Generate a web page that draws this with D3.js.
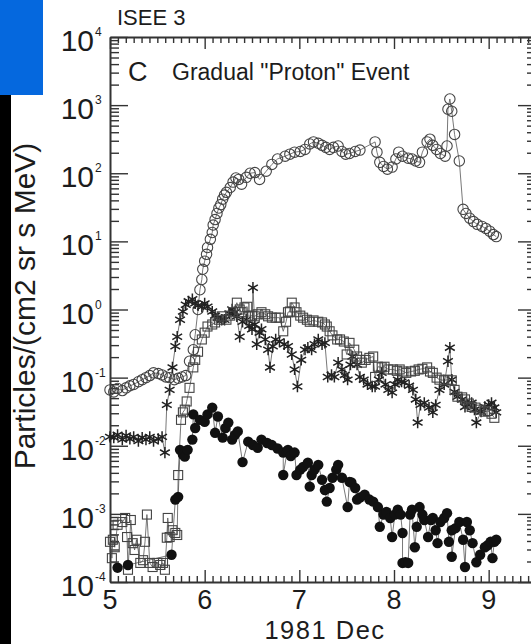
<!DOCTYPE html>
<html lang="en">
<head>
<meta charset="utf-8">
<title>ISEE 3 Gradual Proton Event</title>
<script src="https://cdn.jsdelivr.net/npm/d3@7"></script>
<style>
  html, body { margin: 0; padding: 0; background: #fff; }
  svg { display: block; font-family: "Liberation Sans", Arial, sans-serif; }
</style>
</head>
<body>
<script>
// time in days of 1981 Dec, flux as log10(particles/(cm2 sr s MeV))
const circDay = [5.00,5.04,5.08,5.13,5.17,5.21,5.25,5.30,5.34,5.38,5.42,5.46,5.51,5.55,5.59,5.63,5.68,5.72,5.76,5.80,
  5.84,5.88,5.90,5.93,5.95,5.97,5.98,6.00,6.02,6.03,6.06,6.08,6.09,6.11,6.13,6.15,6.17,6.19,6.21,6.23,
  6.27,6.30,6.33,6.36,6.39,6.44,6.48,6.53,6.58,6.65,6.71,6.77,6.85,6.90,6.95,7.01,7.06,7.11,7.15,7.20,
  7.24,7.28,7.32,7.36,7.41,7.45,7.49,7.53,7.59,7.64,7.80,7.82,7.85,7.89,7.93,7.98,8.02,8.05,8.09,8.15,
  8.19,8.23,8.27,8.30,8.35,8.38,8.41,8.45,8.49,8.54,8.56,8.57,8.59,8.61,8.64,8.69,8.73,8.76,8.80,8.84,
  8.88,8.93,8.97,9.01,9.05,9.08];
const circLog10 = [-1.18,-1.21,-1.16,-1.19,-1.15,-1.12,-1.10,-1.06,-1.03,-1.00,-0.97,-0.93,-0.94,-0.96,-0.99,-1.00,-1.03,-1.01,-0.99,-0.97,
  -0.76,-0.59,-0.37,0.00,0.29,0.44,0.59,0.71,0.81,0.91,1.03,1.13,1.24,1.32,1.41,1.49,1.54,1.62,1.68,1.72,
  1.79,1.87,1.93,1.91,1.84,1.94,2.00,2.01,1.91,2.03,2.13,2.21,2.25,2.28,2.31,2.32,2.35,2.43,2.46,2.44,
  2.41,2.38,2.35,2.38,2.40,2.32,2.28,2.29,2.32,2.34,2.46,2.31,2.16,2.10,2.06,2.09,2.21,2.31,2.25,2.22,
  2.21,2.18,2.16,2.31,2.46,2.50,2.41,2.35,2.29,2.25,2.40,2.94,3.09,2.91,2.57,2.18,1.47,1.41,1.34,1.29,
  1.25,1.22,1.19,1.15,1.10,1.07];

const starDay = [5.00,5.04,5.08,5.13,5.17,5.21,5.25,5.30,5.34,5.38,5.42,5.46,5.51,5.55,5.58,5.60,5.63,5.66,5.69,5.71,
  5.74,5.77,5.80,5.83,5.87,5.90,5.93,5.97,6.00,6.03,6.08,6.11,6.14,6.18,6.21,6.26,6.29,6.32,6.34,6.37,
  6.40,6.44,6.47,6.50,6.51,6.53,6.55,6.58,6.60,6.64,6.67,6.69,6.72,6.75,6.79,6.84,6.88,6.92,6.95,6.98,
  7.02,7.06,7.09,7.13,7.16,7.20,7.24,7.27,7.30,7.34,7.37,7.41,7.45,7.48,7.51,7.54,7.56,7.61,7.64,7.68,
  7.72,7.77,7.80,7.84,7.87,7.91,7.94,7.98,8.01,8.04,8.08,8.11,8.16,8.20,8.23,8.25,8.28,8.32,8.37,8.41,
  8.44,8.48,8.53,8.57,8.59,8.61,8.64,8.67,8.72,8.75,8.78,8.82,8.85,8.87,8.92,8.96,9.00,9.03,9.06,9.08];
const starLog10 = [-1.87,-1.88,-1.84,-1.91,-1.85,-1.90,-1.87,-1.93,-1.88,-1.91,-1.87,-1.93,-1.90,-1.87,-2.10,-1.40,-1.18,-0.85,-0.54,-0.40,
  -0.15,-0.03,0.07,0.12,0.15,0.09,0.06,0.04,0.09,0.04,-0.03,-0.09,-0.12,-0.15,-0.15,-0.06,0.00,-0.04,-0.10,-0.40,
  -0.18,-0.15,-0.24,-0.29,0.32,-0.22,-0.51,-0.34,-0.29,-0.44,-0.59,-0.85,-0.54,-0.44,-0.47,-0.51,-0.54,-0.66,-0.88,-1.13,
  -0.74,-0.59,-0.56,-0.59,-0.51,-0.44,-0.51,-0.49,-0.99,-0.96,-0.99,-0.78,-0.88,-0.96,-1.03,-0.81,-0.69,-0.81,-0.99,-1.03,
  -1.10,-1.13,-1.13,-1.03,-0.93,-1.10,-1.18,-1.22,-1.10,-1.03,-1.06,-1.07,-1.12,-1.18,-1.32,-1.66,-1.40,-1.37,-1.44,-1.51,
  -1.40,-1.18,-1.10,-0.76,-0.56,-1.03,-1.21,-1.28,-1.32,-1.43,-1.40,-1.37,-1.47,-1.66,-1.50,-1.43,-1.40,-1.37,-1.44,-1.51];

const sqDay = [5.00,5.02,5.03,5.05,5.08,5.13,5.16,5.18,5.19,5.22,5.24,5.26,5.28,5.32,5.35,5.37,5.39,5.42,5.45,5.50,
  5.53,5.56,5.58,5.60,5.61,5.63,5.66,5.69,5.71,5.72,5.75,5.77,5.79,5.81,5.84,5.88,5.90,5.93,5.97,6.00,
  6.03,6.08,6.11,6.15,6.18,6.23,6.27,6.30,6.34,6.37,6.39,6.42,6.45,6.46,6.50,6.53,6.56,6.60,6.64,6.67,
  6.71,6.75,6.79,6.83,6.86,6.88,6.90,6.92,6.95,6.97,7.01,7.04,7.08,7.11,7.15,7.20,7.24,7.27,7.29,7.32,
  7.35,7.40,7.43,7.47,7.50,7.53,7.58,7.61,7.64,7.66,7.70,7.74,7.78,7.80,7.83,7.87,7.90,7.94,7.99,8.03,
  8.06,8.10,8.13,8.18,8.22,8.26,8.30,8.35,8.38,8.41,8.45,8.48,8.53,8.57,8.61,8.64,8.67,8.72,8.75,8.79,
  8.82,8.86,8.91,8.96,8.99,9.03,9.06];
const sqLog10 = [-3.41,-3.65,-3.38,-3.49,-3.16,-3.12,-3.06,-3.34,-3.82,-3.09,-3.43,-3.53,-3.38,-3.72,-3.68,-3.41,-3.01,-3.72,-3.78,-3.72,
  -3.75,-3.72,-3.82,-3.35,-3.06,-3.34,-3.24,-3.28,-3.31,-2.43,-1.62,-1.51,-1.47,-1.35,-1.15,-0.85,-0.74,-0.62,-0.44,-0.34,
  -0.25,-0.22,-0.19,-0.15,-0.10,-0.15,-0.09,-0.04,0.10,0.00,-0.04,0.03,0.04,-0.10,-0.09,-0.10,-0.07,-0.04,-0.07,-0.10,
  -0.12,-0.12,-0.12,-0.32,-0.18,-0.04,-0.03,0.10,0.03,-0.04,-0.09,-0.12,-0.15,-0.18,-0.16,-0.18,-0.19,-0.22,-0.25,-0.32,
  -0.38,-0.44,-0.44,-0.47,-0.66,-0.49,-0.59,-0.69,-0.74,-0.78,-0.74,-0.71,-0.69,-0.99,-0.84,-0.85,-0.84,-0.88,-0.88,-0.90,
  -0.88,-0.91,-0.93,-0.91,-0.90,-0.88,-0.87,-0.85,-0.91,-0.93,-1.00,-1.03,-1.04,-1.03,-1.04,-1.18,-1.28,-1.29,-1.32,-1.38,
  -1.43,-1.44,-1.47,-1.50,-1.49,-1.53,-1.59];

const dotDay = [5.08,5.19,5.65,5.69,5.72,5.74,5.77,5.79,5.82,5.87,5.88,5.90,5.95,6.00,6.03,6.08,6.11,6.14,6.19,6.22,
  6.25,6.29,6.32,6.35,6.40,6.46,6.51,6.56,6.60,6.66,6.71,6.77,6.83,6.83,6.87,6.88,6.91,6.95,6.97,7.01,
  7.04,7.09,7.11,7.13,7.16,7.20,7.24,7.27,7.29,7.32,7.35,7.39,7.41,7.45,7.51,7.53,7.55,7.59,7.61,7.64,
  7.69,7.74,7.78,7.83,7.85,7.89,7.92,7.96,7.98,8.01,8.04,8.07,8.09,8.09,8.12,8.15,8.17,8.19,8.22,8.24,
  8.27,8.30,8.32,8.36,8.39,8.41,8.44,8.46,8.49,8.53,8.56,8.58,8.61,8.61,8.65,8.69,8.73,8.75,8.77,8.80,
  8.83,8.87,8.91,8.96,8.99,9.02,9.04,9.06,9.08];
const dotLog10 = [-3.79,-3.75,-3.60,-2.79,-2.75,-2.06,-2.13,-2.16,-2.06,-1.91,-1.54,-1.74,-1.62,-1.65,-1.54,-1.44,-1.81,-1.57,-1.88,-1.74,
  -1.66,-1.91,-1.84,-1.79,-2.24,-1.94,-1.99,-2.03,-1.91,-1.96,-1.99,-2.04,-2.10,-2.43,-2.09,-2.06,-2.15,-2.10,-2.43,-2.35,
  -2.31,-2.25,-2.60,-2.43,-2.35,-2.28,-2.50,-2.65,-2.82,-2.62,-2.47,-2.35,-2.28,-2.47,-2.90,-2.53,-2.54,-2.62,-2.79,-2.76,
  -2.72,-2.79,-2.82,-2.90,-3.19,-3.01,-2.97,-3.06,-3.34,-3.01,-2.94,-3.01,-3.28,-3.72,-3.71,-3.72,-3.01,-2.94,-3.49,-3.19,
  -2.90,-3.01,-3.09,-3.34,-3.09,-3.06,-3.24,-3.43,-3.12,-3.06,-2.99,-3.41,-3.24,-3.63,-3.21,-3.12,-3.38,-3.78,-3.12,-3.24,
  -3.43,-3.71,-3.60,-3.49,-3.46,-3.41,-3.65,-3.41,-3.38];

const xTickDays = [5, 6, 7, 8, 9];
const yDecades = [-4, -3, -2, -1, 0, 1, 2, 3, 4];

const w = 531, h = 644;
const ink = "#1c1c1c";

const svg = d3.select("body").append("svg")
  .attr("width", w)
  .attr("height", h);

// slide edge left of the figure
svg.append("rect").attr("x", 0).attr("y", 0).attr("width", 11).attr("height", h).attr("fill", "#000");
svg.append("rect").attr("x", 0).attr("y", 0).attr("width", 43).attr("height", 95).attr("fill", "#0568de");

const x = d3.scaleLinear().domain([5, 9.5]).range([110, 536]);
const y = d3.scaleLog().domain([1e-4, 1e4]).range([582, 37]);

// minor ticks: every 2 hours / 2..9 per decade
const minorX = d3.range(0, 55).map(i => 5 + i / 12).filter(d => Math.abs(d - Math.round(d)) > 1e-6);
const minorY = [];
yDecades.slice(0, -1).forEach(e => { for (let k = 2; k <= 9; k++) minorY.push(k * Math.pow(10, e)); });

function styleAxis(g, keepDomain) {
  g.selectAll(".tick line").attr("stroke", "#333").attr("stroke-width", 1.4);
  if (keepDomain) g.select(".domain").attr("stroke", "#333").attr("stroke-width", 2);
  else g.select(".domain").remove();
}

svg.append("g").attr("transform", "translate(0,582)")
  .call(d3.axisBottom(x).tickValues(minorX).tickSize(-6).tickFormat(""))
  .call(g => styleAxis(g, false));
svg.append("g").attr("transform", "translate(0,37)")
  .call(d3.axisTop(x).tickValues(minorX).tickSize(-6).tickFormat(""))
  .call(g => styleAxis(g, false));
svg.append("g").attr("transform", "translate(0,582)")
  .call(d3.axisBottom(x).tickValues(xTickDays).tickSize(-12).tickSizeOuter(0).tickFormat(""))
  .call(g => styleAxis(g, true));
svg.append("g").attr("transform", "translate(0,37)")
  .call(d3.axisTop(x).tickValues(xTickDays).tickSize(-12).tickSizeOuter(0).tickFormat(""))
  .call(g => styleAxis(g, true));

svg.append("g").attr("transform", "translate(110,0)")
  .call(d3.axisLeft(y).tickValues(minorY).tickSize(-9).tickFormat(""))
  .call(g => styleAxis(g, false));
svg.append("g").attr("transform", "translate(536,0)")
  .call(d3.axisRight(y).tickValues(minorY).tickSize(-9).tickFormat(""))
  .call(g => styleAxis(g, false));
svg.append("g").attr("transform", "translate(110,0)")
  .call(d3.axisLeft(y).tickValues(yDecades.map(e => Math.pow(10, e))).tickSize(-18).tickSizeOuter(0).tickFormat(""))
  .call(g => styleAxis(g, true));
svg.append("g").attr("transform", "translate(536,0)")
  .call(d3.axisRight(y).tickValues(yDecades.map(e => Math.pow(10, e))).tickSize(-18).tickSizeOuter(0).tickFormat(""))
  .call(g => styleAxis(g, true));

// y tick labels 10^n
const yl = svg.append("g").attr("fill", ink);
yDecades.forEach(e => {
  const py = y(Math.pow(10, e));
  yl.append("text").attr("x", 94).attr("y", py + 14)
    .attr("text-anchor", "end").attr("font-size", 30).text("10");
  yl.append("text").attr("x", 95).attr("y", py - 1)
    .attr("font-size", 12).text(e < 0 ? "-" + Math.abs(e) : e);
});

// x tick labels
svg.append("g").selectAll("text")
  .data(xTickDays)
  .enter()
  .append("text")
  .attr("x", d => x(d))
  .attr("y", 609)
  .attr("text-anchor", "middle")
  .attr("font-size", 27)
  .attr("fill", ink)
  .text(d => d);

// titles
svg.append("text").attr("x", 325).attr("y", 638.5).attr("text-anchor", "middle")
  .attr("font-size", 25.5).attr("letter-spacing", 1.5).attr("fill", ink).text("1981 Dec");
svg.append("text").attr("transform", "translate(35,306) rotate(-90)")
  .attr("text-anchor", "middle").attr("font-size", 30).attr("fill", ink)
  .text("Particles/(cm2 sr s MeV)");
svg.append("text").attr("x", 117).attr("y", 25).attr("font-size", 22).attr("fill", ink).text("ISEE 3");
svg.append("text").attr("x", 128).attr("y", 81).attr("font-size", 27).attr("fill", ink).text("C");
svg.append("text").attr("x", 172).attr("y", 80).attr("font-size", 23).attr("fill", ink).text("Gradual \"Proton\" Event");

// series
const line = d3.line().x(d => x(d[0])).y(d => y(Math.pow(10, d[1])));
const circ = d3.zip(circDay, circLog10);
const star = d3.zip(starDay, starLog10);
const sq = d3.zip(sqDay, sqLog10);
const dot = d3.zip(dotDay, dotLog10);

[circ, star, sq, dot].forEach(s => {
  svg.append("path").datum(s)
    .attr("d", line)
    .attr("fill", "none")
    .attr("stroke", "#555")
    .attr("stroke-width", 0.8);
});

svg.append("g").selectAll("circle")
  .data(circ)
  .enter()
  .append("circle")
  .attr("cx", d => x(d[0]))
  .attr("cy", d => y(Math.pow(10, d[1])))
  .attr("r", 5.2)
  .attr("fill", "none")
  .attr("stroke", "#444")
  .attr("stroke-width", 1.1);

const asterisk = d3.symbol().type(d3.symbolAsterisk).size(90);
svg.append("g").selectAll("path")
  .data(star)
  .enter()
  .append("path")
  .attr("d", asterisk)
  .attr("transform", d => "translate(" + x(d[0]) + "," + y(Math.pow(10, d[1])) + ")")
  .attr("fill", "none")
  .attr("stroke", "#222")
  .attr("stroke-width", 1.5);

svg.append("g").selectAll("rect")
  .data(sq)
  .enter()
  .append("rect")
  .attr("x", d => x(d[0]) - 4.5)
  .attr("y", d => y(Math.pow(10, d[1])) - 4.5)
  .attr("width", 9)
  .attr("height", 9)
  .attr("fill", "none")
  .attr("stroke", "#444")
  .attr("stroke-width", 1.1);

svg.append("g").selectAll("circle")
  .data(dot)
  .enter()
  .append("circle")
  .attr("cx", d => x(d[0]))
  .attr("cy", d => y(Math.pow(10, d[1])))
  .attr("r", 5.2)
  .attr("fill", "#111");
</script>
</body>
</html>
